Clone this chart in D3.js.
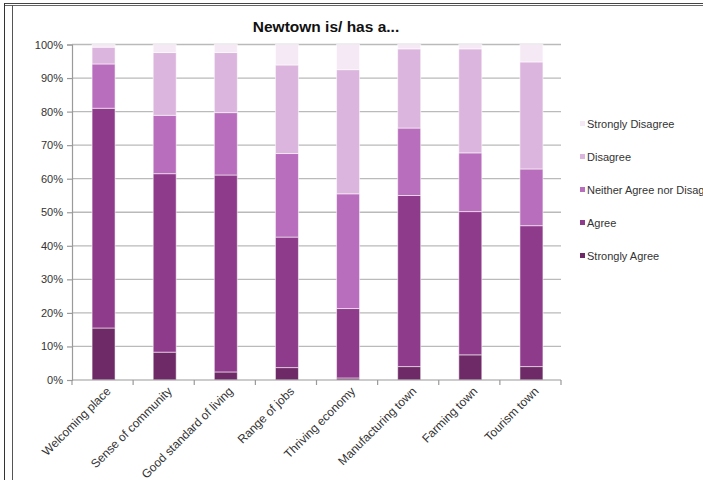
<!DOCTYPE html>
<html><head><meta charset="utf-8">
<script src="https://cdn.jsdelivr.net/npm/d3@7"></script>
<style>body{margin:0;background:#fff;overflow:hidden}svg{display:block}</style>
</head><body>
<script>
const categories = ["Welcoming place","Sense of community","Good standard of living","Range of jobs","Thriving economy","Manufacturing town","Farming town","Tourism town"];
const seriesNames = ["Strongly Agree","Agree","Neither Agree nor Disagree","Disagree","Strongly Disagree"];
const stronglyAgree    = [15.5, 8.3, 2.4, 3.7, 0.6, 4.0, 7.5, 4.0];
const agree            = [65.5, 53.2, 58.7, 38.9, 20.7, 51.0, 42.7, 42.0];
const neither          = [13.2, 17.4, 18.6, 24.9, 34.2, 20.1, 17.5, 16.9];
const disagree         = [5.0, 18.7, 17.9, 26.4, 37.0, 23.6, 31.0, 31.9];
const stronglyDisagree = [0.8, 2.4, 2.4, 6.1, 7.5, 1.3, 1.3, 5.2];
const yTicks = [0,10,20,30,40,50,60,70,80,90,100];
const colors = ["#6e2a66","#8e3b8b","#b86dbd","#dbb5dd","#f6e9f6"];

const W = 703, H = 480;
const svg = d3.select("body").append("svg").attr("width", W).attr("height", H);
const font = "Liberation Sans, Arial, sans-serif";

// frame
svg.append("line").attr("x1",4).attr("x2",W).attr("y1",3.5).attr("y2",3.5).attr("stroke","#444").attr("stroke-width",1);
svg.append("line").attr("x1",4).attr("x2",W).attr("y1",5.5).attr("y2",5.5).attr("stroke","#666").attr("stroke-width",1);
svg.append("line").attr("x1",4.5).attr("x2",4.5).attr("y1",3).attr("y2",H).attr("stroke","#333").attr("stroke-width",1);
svg.append("line").attr("x1",12.5).attr("x2",12.5).attr("y1",5).attr("y2",H).attr("stroke","#555").attr("stroke-width",1);

const series = [stronglyAgree, agree, neither, disagree, stronglyDisagree];
const table = categories.map((c,i)=>{
  const o = {cat:c};
  seriesNames.forEach((s,k)=>o[s]=series[k][i]);
  return o;
});
const stack = d3.stack().keys(seriesNames).offset(d3.stackOffsetExpand)(table);

const x = d3.scaleBand().domain(categories).range([72,561]).padding(0);
const y = d3.scaleLinear().domain([0,1]).range([380,44.5]);

// gridlines
svg.append("g").selectAll("line").data(yTicks.filter(t=>t>0)).join("line")
  .attr("x1",72).attr("x2",561)
  .attr("y1",d=>y(d/100)).attr("y2",d=>y(d/100))
  .attr("stroke","#bababa").attr("stroke-width",1.3);

// y axis
const yAxis = d3.axisLeft(y).tickValues(yTicks.map(t=>t/100)).tickFormat(d=>Math.round(d*100)+"%").tickSize(5).tickPadding(4);
const gy = svg.append("g").attr("transform","translate(72,0)").call(yAxis);
gy.select(".domain").attr("stroke","#9a9a9a").attr("stroke-width",1.2);
gy.selectAll(".tick line").attr("stroke","#9a9a9a").attr("stroke-width",1.2);
gy.selectAll("text").attr("font-family",font).attr("font-size",11).attr("fill","#333");

// bars
const bw = 23;
svg.append("g").selectAll("g").data(stack).join("g")
  .attr("fill",(d,i)=>colors[i])
  .selectAll("rect").data(d=>d).join("rect")
  .attr("x",d=>x(d.data.cat)+x.bandwidth()/2-bw/2+1)
  .attr("width",bw)
  .attr("y",d=>y(d[1]))
  .attr("height",d=>Math.max(0,y(d[0])-y(d[1])))
  .attr("stroke","rgba(255,255,255,0.55)").attr("stroke-width",1);

// x axis
const gx = svg.append("g").attr("transform","translate(0,380)");
gx.append("line").attr("x1",72).attr("x2",561).attr("stroke","#9a9a9a").attr("stroke-width",1.2);
gx.selectAll("line.t").data(d3.range(categories.length+1)).join("line").attr("class","t")
  .attr("x1",i=>72+i*x.step()).attr("x2",i=>72+i*x.step()).attr("y1",0).attr("y2",5)
  .attr("stroke","#9a9a9a").attr("stroke-width",1.2);
gx.selectAll("text").data(categories).join("text")
  .attr("transform",d=>`translate(${x(d)+x.bandwidth()/2+6},9) rotate(-45)`)
  .attr("text-anchor","end").attr("dy","0.35em")
  .attr("font-family",font).attr("font-size",12).attr("fill","#333")
  .text(d=>d);

// title
svg.append("text").attr("x",326).attr("y",32).attr("text-anchor","middle")
  .attr("font-family",font).attr("font-size",15.5).attr("font-weight","bold").attr("fill","#111")
  .text("Newtown is/ has a...");

// legend
const legendOrder = seriesNames.map((s,i)=>({s,c:colors[i]})).reverse();
const lg = svg.append("g").selectAll("g").data(legendOrder).join("g")
  .attr("transform",(d,i)=>`translate(580,${124+i*33})`);
lg.append("rect").attr("x",0).attr("y",-3).attr("width",5).attr("height",5).attr("fill",d=>d.c);
lg.append("text").attr("x",7).attr("y",0).attr("dy","0.35em")
  .attr("font-family",font).attr("font-size",11).attr("fill","#333").text(d=>d.s);
</script>
</body></html>
